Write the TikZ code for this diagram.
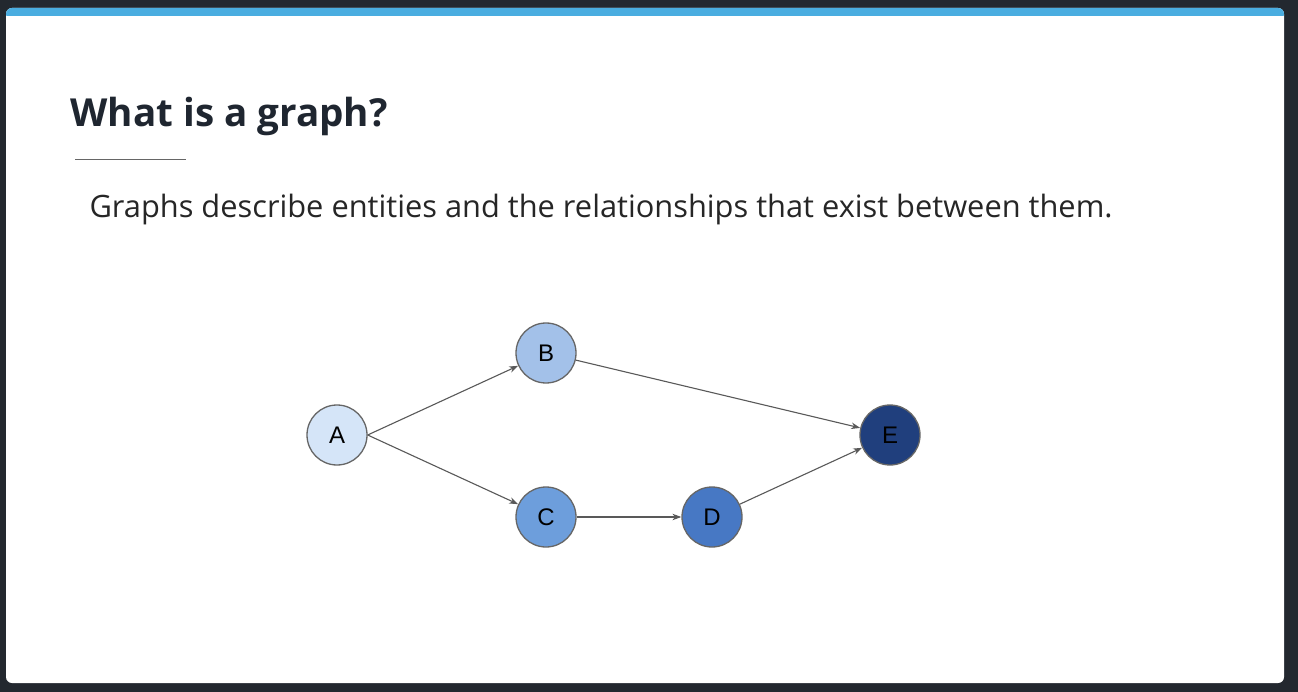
\documentclass[tikz,border=0pt]{standalone}
\usepackage{xcolor}
\usepackage{fontspec}
\setmainfont{Open Sans}
\newfontfamily\labelfont{Liberation Sans}
\usepackage{tikz}
\usetikzlibrary{arrows.meta}

\definecolor{bgdark}{HTML}{23282F}
\definecolor{barblue}{HTML}{4AADE0}
\definecolor{titlecol}{HTML}{1F2630}
\definecolor{nodeA}{HTML}{D5E5F8}
\definecolor{nodeB}{HTML}{A3C1E9}
\definecolor{nodeC}{HTML}{6D9EDC}
\definecolor{nodeD}{HTML}{4778C4}
\definecolor{nodeE}{HTML}{203F7D}

\tikzset{
  vertex/.style={circle, draw=black!60, line width=1.3pt, minimum size=60pt,
    inner sep=0pt, font=\labelfont\fontsize{24}{28}\selectfont},
  edge/.style={draw=black!65, line width=1.1pt, -{Stealth[length=9pt,width=6.5pt]}}
}

\begin{document}
\begin{tikzpicture}[x=1pt,y=-1pt]
\useasboundingbox (0,0) rectangle (1298,692);
\fill[bgdark] (0,0) rectangle (1298,692);
\fill[white, rounded corners=6pt] (6,8) rectangle (1284,683);
\fill[barblue, rounded corners=6pt] (6,8) rectangle (1284,20);
\fill[white] (6,16) rectangle (1284,24);

\node[anchor=base west, text=titlecol, font=\bfseries\fontsize{38.6}{44}\selectfont] (title) at (67,127) {What is a graph?};
\draw[black!60, line width=1pt] (75,160) -- (186,160);
\node[anchor=base west, text=black!85, font=\fontsize{30.8}{36}\selectfont] (sub) at (86,218) {Graphs describe entities and the relationships that exist between them.};

\node[vertex, fill=nodeA] (a) at (337,435) {A};
\node[vertex, fill=nodeB] (b) at (546,353) {B};
\node[vertex, fill=nodeC] (c) at (546,517) {C};
\node[vertex, fill=nodeD] (d) at (712,517) {D};
\node[vertex, fill=nodeE] (e) at (890,435) {E};

\draw[edge] (a.east) -- (b);
\draw[edge] (a.east) -- (c);
\draw[edge] (b) -- (e);
\draw[edge] (c) -- (d);
\draw[edge] (d) -- (e);
\end{tikzpicture}
\end{document}
